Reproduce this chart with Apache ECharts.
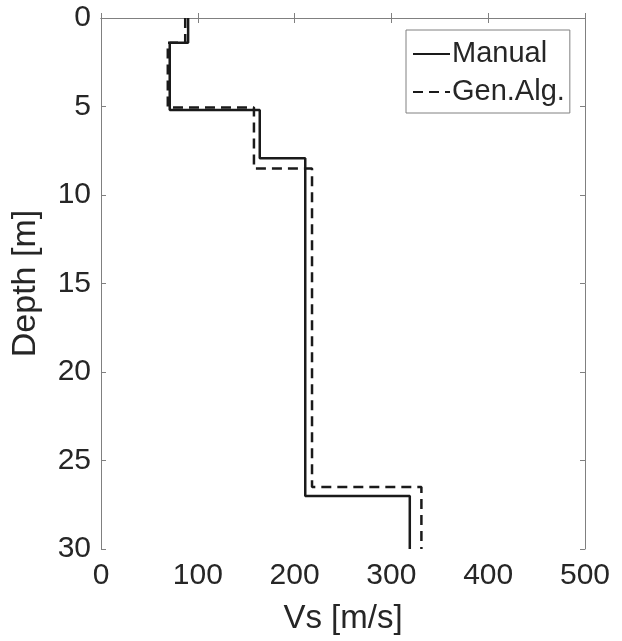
<!DOCTYPE html>
<html><head><meta charset="utf-8">
<script src="https://cdn.jsdelivr.net/npm/echarts@6/dist/echarts.min.js"></script>
<style>html,body{margin:0;padding:0;background:#fff}#c{width:622px;height:641px}</style>
</head><body><div id="c"></div>
<script>
// Layer tops/bottoms (m) and shear-wave velocities (m/s)
const manualTop = [0, 1.4, 5.2, 7.93, 27.0];
const manualBottom = [1.4, 5.2, 7.93, 27.0, 30];
const manualVs = [90, 71, 164, 211, 319];
const genTop = [0, 1.4, 5.05, 8.5, 26.5];
const genBottom = [1.4, 5.05, 8.5, 26.5, 30];
const genVs = [87, 69, 158, 218, 331];
const xTicks = [0, 100, 200, 300, 400, 500];
const yTicks = [0, 5, 10, 15, 20, 25, 30];

function steps(tops, bottoms, vs) {
  const pts = [];
  for (let i = 0; i < vs.length; i++) { pts.push([vs[i], tops[i]]); pts.push([vs[i], bottoms[i]]); }
  return pts;
}
const font = 'Liberation Sans, Arial, sans-serif';
const txt = '#262626', ax = '#808080';
const chart = echarts.init(document.getElementById('c'), null, {renderer: 'canvas'});
const baseX = {type: 'value', min: xTicks[0], max: xTicks[xTicks.length - 1], interval: xTicks[1] - xTicks[0],
  axisLine: {show: true, lineStyle: {color: ax, width: 1}},
  axisTick: {show: true, inside: true, length: 5, lineStyle: {color: ax}},
  splitLine: {show: false}};
const baseY = {type: 'value', min: yTicks[0], max: yTicks[yTicks.length - 1], interval: yTicks[1] - yTicks[0], inverse: true,
  axisLine: {show: true, onZero: false, lineStyle: {color: ax, width: 1}},
  axisTick: {show: true, inside: true, length: 5, lineStyle: {color: ax}},
  splitLine: {show: false}};
chart.setOption({
  animation: false,
  backgroundColor: '#fff',
  grid: {left: 101, top: 18, width: 484, height: 531, containLabel: false},
  legend: {
    orient: 'vertical', left: 406, top: 30,
    backgroundColor: '#fff', borderColor: ax, borderWidth: 1,
    padding: [8, 5, 5, 6], itemGap: 6, itemWidth: 37, itemHeight: 14,
    itemStyle: {opacity: 0},
    textStyle: {fontFamily: font, fontSize: 29, lineHeight: 32, color: txt, padding: [0, 0, 0, -3]},
    data: [{name: 'Manual'}, {name: 'Gen.Alg.'}]
  },
  xAxis: [
    Object.assign({}, baseX, {position: 'bottom', name: 'Vs [m/s]', nameLocation: 'middle', nameGap: 53,
      nameTextStyle: {fontFamily: font, fontSize: 33, color: txt},
      axisLabel: {fontFamily: font, fontSize: 30, color: txt, margin: 12}}),
    Object.assign({}, baseX, {position: 'top', axisLabel: {show: false}})
  ],
  yAxis: [
    Object.assign({}, baseY, {position: 'left', name: 'Depth [m]', nameLocation: 'middle', nameGap: 58,
      nameTextStyle: {fontFamily: font, fontSize: 34, color: txt},
      axisLabel: {fontFamily: font, fontSize: 30, color: txt, margin: 10}}),
    Object.assign({}, baseY, {position: 'right', axisLabel: {show: false}})
  ],
  series: [
    {name: 'Manual', type: 'line', xAxisIndex: 0, yAxisIndex: 0, symbol: 'none',
      lineStyle: {color: '#1a1a1a', width: 2.5, type: 'solid'}, itemStyle: {color: '#1a1a1a'},
      data: steps(manualTop, manualBottom, manualVs)},
    {name: 'Gen.Alg.', type: 'line', xAxisIndex: 0, yAxisIndex: 0, symbol: 'none',
      lineStyle: {color: '#1a1a1a', width: 2.5, type: [10, 6]}, itemStyle: {color: '#1a1a1a'},
      data: steps(genTop, genBottom, genVs)}
  ]
});
</script></body></html>
